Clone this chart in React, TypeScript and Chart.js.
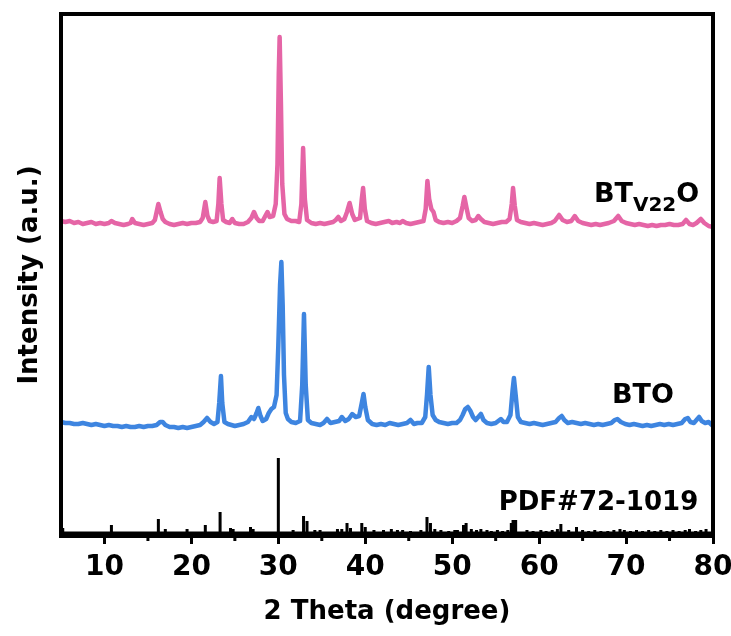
import { useEffect, useRef } from "react";
import { Chart, registerables } from "chart.js";

Chart.register(...registerables);

// ---- axis data ----
const X_MIN = 5;
const X_MAX = 80;
const xTickValues = [10, 20, 30, 40, 50, 60, 70, 80];
const xMinorTickValues = [15, 25, 35, 45, 55, 65, 75];
const Y_MIN = 0;
const Y_MAX = 522;

// ---- BT(V22)O pattern (2θ, intensity above its baseline, a.u.) ----
const btv22oTheta = [
  5.0, 5.5, 6.0, 6.5, 7.0, 7.5, 8.0, 8.5, 9.0, 9.5, 10.0, 10.5, 10.8, 11.2, 11.7, 12.2, 12.7, 13.0, 13.2, 13.5,
  14.0, 14.5, 15.0, 15.5, 15.8, 16.0, 16.2, 16.45, 16.7, 17.0, 17.5, 18.0, 18.5, 19.0, 19.5, 20.0, 20.5, 21.0, 21.3, 21.6,
  21.85, 22.1, 22.5, 22.9, 23.1, 23.25, 23.45, 23.65, 24.0, 24.4, 24.7, 25.0, 25.5, 26.0, 26.5, 26.9, 27.2, 27.5, 27.8, 28.2,
  28.5, 28.75, 29.0, 29.4, 29.7, 29.9, 30.05, 30.15, 30.3, 30.45, 30.7, 31.0, 31.5, 32.0, 32.4, 32.65, 32.85, 33.05, 33.3, 33.8,
  34.3, 34.8, 35.3, 35.8, 36.3, 36.6, 36.9, 37.2, 37.6, 37.9, 38.2, 38.5, 38.8, 39.4, 39.6, 39.75, 39.95, 40.2, 40.7, 41.2,
  41.7, 42.2, 42.7, 43.1, 43.6, 44.0, 44.3, 44.7, 45.2, 45.7, 46.2, 46.7, 46.95, 47.15, 47.35, 47.6, 47.85, 48.1, 48.5, 49.0,
  49.5, 50.0, 50.5, 50.9, 51.2, 51.4, 51.65, 51.9, 52.3, 52.7, 53.0, 53.3, 53.7, 54.2, 54.7, 55.2, 55.7, 56.2, 56.6, 56.85,
  57.0, 57.2, 57.45, 57.9, 58.4, 58.9, 59.4, 59.9, 60.4, 60.9, 61.4, 61.8, 62.3, 62.7, 63.2, 63.7, 64.1, 64.5, 65.0, 65.5,
  66.0, 66.5, 67.0, 67.5, 68.0, 68.6, 69.1, 69.5, 70.0, 70.5, 71.0, 71.5, 72.0, 72.5, 73.0, 73.5, 74.0, 74.5, 75.0, 75.5,
  76.0, 76.5, 76.9, 77.3, 77.7, 78.1, 78.6, 79.0, 79.5, 80.0,
];
const btv22oIntensity = [
  3, 2, 3, 1, 2, 0, 1, 2, 0, 1, 0, 1, 3, 1, 0, -1, 0, 1, 5, 1,
  0, -1, 0, 1, 4, 12, 20, 12, 5, 2, 0, -1, 0, 1, 0, 1, 1, 2, 6, 22,
  8, 3, 2, 3, 20, 46, 20, 4, 2, 1, 5, 1, 0, 0, 2, 6, 12, 6, 3, 3,
  8, 12, 7, 8, 20, 60, 150, 187, 120, 40, 10, 5, 3, 3, 2, 20, 76, 25, 4, 1,
  0, 1, 0, 1, 2, 4, 7, 3, 5, 12, 21, 10, 4, 6, 25, 36, 15, 3, 1, 0,
  1, 2, 3, 1, 2, 1, 3, 1, 0, 1, 2, 3, 15, 43, 25, 15, 12, 4, 2, 1,
  2, 1, 3, 6, 18, 27, 16, 6, 3, 4, 8, 5, 2, 1, 0, 1, 2, 2, 5, 20,
  36, 18, 4, 2, 1, 0, 1, 0, -1, 0, 1, 3, 9, 4, 2, 3, 8, 3, 1, 0,
  -1, 0, -1, 0, 1, 3, 8, 3, 1, 0, -1, 0, -1, -2, -1, -2, -1, -1, 0, -1,
  -1, 0, 4, 0, -1, 1, 5, 1, -2, -3,
];

// ---- BTO pattern ----
const btoTheta = [
  5.0, 5.5, 6.0, 6.5, 7.0, 7.5, 8.0, 8.5, 9.0, 9.5, 10.0, 10.5, 11.0, 11.5, 12.0, 12.5, 13.0, 13.5, 14.0, 14.5,
  15.0, 15.5, 16.0, 16.4, 16.7, 17.0, 17.5, 18.0, 18.5, 19.0, 19.5, 20.0, 20.5, 21.0, 21.4, 21.8, 22.2, 22.6, 23.0, 23.2,
  23.4, 23.55, 23.8, 24.2, 24.6, 25.0, 25.5, 26.0, 26.5, 26.9, 27.2, 27.5, 27.7, 27.95, 28.2, 28.6, 28.9, 29.2, 29.5, 29.8,
  30.0, 30.2, 30.35, 30.5, 30.65, 30.85, 31.1, 31.5, 32.0, 32.5, 32.75, 32.95, 33.15, 33.4, 33.8, 34.3, 34.8, 35.2, 35.6, 36.0,
  36.5, 37.0, 37.3, 37.7, 38.1, 38.5, 38.9, 39.3, 39.6, 39.8, 40.0, 40.3, 40.8, 41.3, 41.8, 42.3, 42.8, 43.3, 43.8, 44.3,
  44.8, 45.2, 45.6, 46.0, 46.5, 46.9, 47.1, 47.3, 47.5, 47.75, 48.1, 48.5, 49.0, 49.5, 50.0, 50.5, 50.9, 51.2, 51.5, 51.8,
  52.1, 52.4, 52.7, 53.0, 53.3, 53.6, 54.0, 54.5, 55.0, 55.3, 55.6, 55.9, 56.3, 56.7, 56.95, 57.1, 57.3, 57.55, 57.9, 58.4,
  58.9, 59.4, 59.9, 60.4, 60.9, 61.4, 61.9, 62.3, 62.6, 62.9, 63.3, 63.8, 64.3, 64.8, 65.3, 65.8, 66.3, 66.8, 67.3, 67.8,
  68.3, 68.7, 69.0, 69.4, 69.9, 70.4, 70.9, 71.4, 71.9, 72.4, 72.9, 73.4, 73.9, 74.4, 74.9, 75.4, 75.9, 76.4, 76.8, 77.1,
  77.4, 77.8, 78.1, 78.4, 78.7, 79.1, 79.5, 80.0,
];
const btoIntensity = [
  3, 2, 2, 1, 1, 2, 1, 0, 1, 0, -1, 0, -1, -1, -2, -1, -2, -2, -1, -2,
  -1, -1, 0, 3, 3, 0, -2, -2, -3, -2, -3, -2, -1, 0, 3, 7, 3, 1, 3, 22,
  49, 22, 3, 1, 0, -1, 0, 1, 3, 8, 6, 12, 17, 9, 4, 6, 12, 16, 18, 30,
  80, 140, 163, 120, 50, 12, 6, 3, 2, 4, 40, 111, 40, 5, 2, 1, 0, 2, 6, 2,
  3, 4, 8, 4, 6, 11, 8, 9, 22, 31, 18, 5, 1, 0, 1, 0, 2, 1, 0, 1,
  2, 5, 1, 2, 2, 8, 30, 58, 30, 10, 5, 3, 2, 1, 2, 2, 5, 10, 16, 18,
  14, 8, 5, 8, 11, 5, 2, 1, 2, 4, 6, 3, 3, 10, 35, 47, 30, 8, 3, 2,
  1, 2, 1, 0, 1, 2, 3, 7, 9, 5, 2, 3, 2, 1, 2, 1, 0, 1, 0, 1,
  2, 5, 6, 3, 1, 0, 1, 0, -1, 0, -1, 0, 1, 0, 1, 0, 1, 2, 6, 7,
  3, 2, 5, 8, 4, 2, 3, -1,
];

// ---- PDF#72-1019 reference sticks ----
const pdfTheta = [
  5.2, 10.8, 16.2, 17.0, 19.5, 21.6, 23.3, 24.5, 24.8, 26.8, 27.1, 30.0, 31.7, 32.9, 33.3, 34.2, 34.8, 36.8, 37.3, 37.9,
  38.3, 39.6, 40.0, 41.0, 42.1, 43.0, 43.7, 44.3, 45.2, 46.4, 47.1, 47.5, 48.0, 48.7, 49.6, 50.3, 50.6, 51.3, 51.6, 52.2,
  52.8, 53.3, 54.0, 54.5, 55.2, 55.8, 56.4, 56.8, 57.0, 57.3, 58.6, 59.3, 60.2, 60.8, 61.5, 62.1, 62.5, 63.4, 64.3, 65.0,
  65.7, 66.4, 67.1, 67.9, 68.6, 69.3, 69.8, 70.5, 71.2, 71.9, 72.6, 73.3, 74.0, 74.7, 75.4, 76.1, 76.8, 77.3, 78.0, 78.6,
  79.2,
];
const pdfIntensity = [
  5, 8, 14, 4, 4, 8, 21, 5, 4, 6, 4, 75, 3, 17, 12, 3, 3, 4, 4, 10,
  5, 10, 6, 3, 3, 4, 3, 3, 2, 3, 16, 10, 4, 3, 2, 3, 3, 8, 10, 4,
  3, 4, 3, 2, 3, 2, 3, 10, 13, 13, 3, 2, 3, 2, 3, 4, 9, 3, 6, 3,
  2, 3, 2, 2, 3, 4, 3, 2, 3, 2, 3, 2, 3, 2, 3, 2, 3, 4, 2, 3,
  4,
];

// ---- stacking offsets and labels ----
const btv22oOffset = 312;
const btoOffset = 111;
const pdfOffset = 3;

const labelBtv22o = { main: "BT", sub: "V22", tail: "O", x: 66.3, y: 334 };
const labelBto = { text: "BTO", x: 75.5, y: 133 };
const labelPdf = { text: "PDF#72-1019", x: 78.3, y: 26 };

const PINK = "#E565A6";
const BLUE = "#3E85E0";
const FONT = "'DejaVu Sans', 'Liberation Sans', Arial, sans-serif";

function toPoints(xs: number[], ys: number[], offset: number) {
  return xs.map((x, i) => ({ x, y: ys[i] + offset }));
}

function toSticks(xs: number[], ys: number[], offset: number) {
  const pts: { x: number; y: number }[] = [];
  xs.forEach((x, i) => {
    pts.push({ x, y: offset });
    pts.push({ x, y: ys[i] + offset });
    pts.push({ x, y: offset });
  });
  pts.unshift({ x: X_MIN, y: offset });
  pts.push({ x: X_MAX, y: offset });
  return pts;
}

const decorPlugin = {
  id: "decor",
  afterDatasetsDraw(chart: any) {
    const { ctx, chartArea, scales } = chart;
    const xs = scales.x;
    ctx.save();
    ctx.strokeStyle = "#000";
    ctx.lineWidth = 4;
    ctx.strokeRect(chartArea.left, chartArea.top, chartArea.right - chartArea.left, chartArea.bottom - chartArea.top);
    ctx.lineWidth = 3;
    xMinorTickValues.forEach((v) => {
      const px = xs.getPixelForValue(v);
      ctx.beginPath();
      ctx.moveTo(px, chartArea.bottom);
      ctx.lineTo(px, chartArea.bottom + 5);
      ctx.stroke();
    });
    ctx.restore();
  },
  afterDraw(chart: any) {
    const { ctx, scales } = chart;
    const xs = scales.x;
    const ys = scales.y;
    ctx.save();
    ctx.fillStyle = "#000";
    ctx.textBaseline = "alphabetic";
    let px = xs.getPixelForValue(labelBtv22o.x);
    const py = ys.getPixelForValue(labelBtv22o.y);
    ctx.textAlign = "left";
    ctx.font = `bold 27px ${FONT}`;
    ctx.fillText(labelBtv22o.main, px, py);
    px += ctx.measureText(labelBtv22o.main).width;
    ctx.font = `bold 20px ${FONT}`;
    ctx.fillText(labelBtv22o.sub, px, py + 9);
    px += ctx.measureText(labelBtv22o.sub).width;
    ctx.font = `bold 27px ${FONT}`;
    ctx.fillText(labelBtv22o.tail, px, py);
    ctx.textAlign = "right";
    ctx.font = `bold 27px ${FONT}`;
    ctx.fillText(labelBto.text, xs.getPixelForValue(labelBto.x), ys.getPixelForValue(labelBto.y));
    ctx.font = `bold 26px ${FONT}`;
    ctx.fillText(labelPdf.text, xs.getPixelForValue(labelPdf.x), ys.getPixelForValue(labelPdf.y));
    ctx.restore();
  },
};

export default function App() {
  const canvasRef = useRef<HTMLCanvasElement | null>(null);

  useEffect(() => {
    document.body.style.margin = "0";
    const canvas = canvasRef.current;
    if (!canvas) return;
    const chart = new Chart(canvas, {
      type: "line",
      data: {
        datasets: [
          {
            label: "BTV22O",
            data: toPoints(btv22oTheta, btv22oIntensity, btv22oOffset),
            borderColor: PINK,
            borderWidth: 4.5,
            pointRadius: 0,
            tension: 0,
            borderJoinStyle: "round",
          },
          {
            label: "BTO",
            data: toPoints(btoTheta, btoIntensity, btoOffset),
            borderColor: BLUE,
            borderWidth: 4.5,
            pointRadius: 0,
            tension: 0,
            borderJoinStyle: "round",
          },
          {
            label: "PDF#72-1019",
            data: toSticks(pdfTheta, pdfIntensity, pdfOffset),
            borderColor: "#000",
            borderWidth: 3,
            pointRadius: 0,
            tension: 0,
          },
        ],
      },
      options: {
        animation: false,
        responsive: false,
        devicePixelRatio: 1,
        layout: { padding: { top: 14, right: 18, bottom: 0, left: 0 } },
        plugins: { legend: { display: false }, tooltip: { enabled: false } },
        scales: {
          x: {
            type: "linear",
            min: X_MIN,
            max: X_MAX,
            afterBuildTicks: (scale: any) => {
              scale.ticks = xTickValues.map((v) => ({ value: v }));
            },
            afterFit: (scale: any) => {
              scale.height = 100;
              scale.paddingLeft = 0;
              scale.paddingRight = 0;
            },
            border: { display: false },
            grid: {
              drawOnChartArea: false,
              drawTicks: true,
              tickLength: 8,
              tickWidth: 3,
              tickColor: "#000",
            },
            ticks: {
              color: "#000",
              padding: 7,
              maxRotation: 0,
              autoSkip: false,
              font: { family: FONT, weight: "bold", size: 28 },
            },
            title: {
              display: true,
              text: "2 Theta (degree)",
              color: "#000",
              font: { family: FONT, weight: "bold", size: 26 },
              padding: { top: 0, bottom: 8 },
            },
          },
          y: {
            type: "linear",
            min: Y_MIN,
            max: Y_MAX,
            afterFit: (scale: any) => {
              scale.width = 61;
              scale.paddingTop = 0;
              scale.paddingBottom = 0;
            },
            border: { display: false },
            grid: { display: false },
            ticks: { display: false },
            title: {
              display: true,
              text: "Intensity (a.u.)",
              color: "#000",
              font: { family: FONT, weight: "bold", size: 26 },
              padding: { top: 15, bottom: 0 },
            },
          },
        },
      },
      plugins: [decorPlugin],
    } as any);
    return () => chart.destroy();
  }, []);

  return (
    <div style={{ width: 731, height: 636 }}>
      <canvas ref={canvasRef} width={731} height={636} style={{ display: "block" }} />
    </div>
  );
}
